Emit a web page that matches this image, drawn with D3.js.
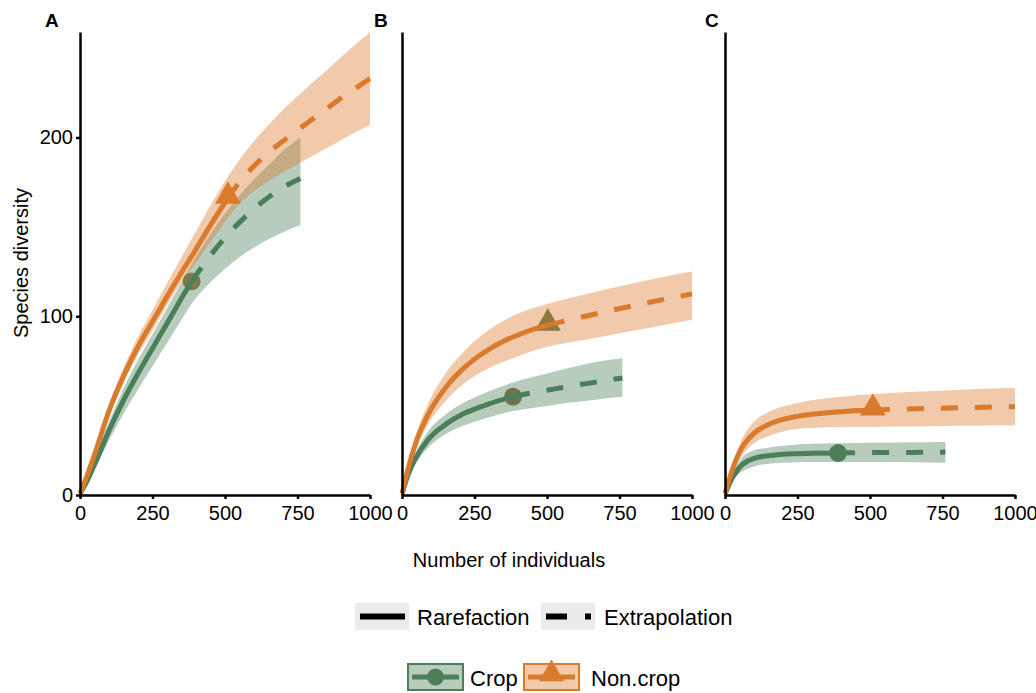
<!DOCTYPE html>
<html><head><meta charset="utf-8">
<script src="https://cdn.jsdelivr.net/npm/d3@7"></script>
<style>body{margin:0;background:#fff} text{font-family:"Liberation Sans",Arial,sans-serif}</style>
</head><body>
<svg id="chart" width="1036" height="693"></svg>
<script>
// ---------- data ----------
const panelLabels = ["A", "B", "C"];
const xTicks = [0, 250, 500, 750, 1000];
const yTicks = [0, 100, 200];
const groups = ["Crop", "Non.crop"];
const methods = ["Rarefaction", "Extrapolation"];

// Panel A
const A_crop_obs = 385;
const A_crop_n  = [1, 25, 50, 100, 150, 200, 250, 300, 350, 385, 450, 500, 550, 600, 650, 700, 760];
const A_crop_y  = [1, 8, 17, 36, 53, 68, 82, 96, 110, 119.5, 134, 144, 152.5, 160, 166.5, 172, 177];
const A_crop_lo = [1, 6.5, 14, 30.5, 45.5, 59, 72, 85, 98, 107, 119, 126.5, 133, 138.5, 143, 147, 151];
const A_crop_hi = [1, 9.5, 20, 41, 59.5, 75.5, 90, 104.5, 119, 129, 146, 157.5, 167.5, 176.5, 184.5, 192.5, 200];

const A_non_obs = 510;
const A_non_n  = [1, 25, 50, 100, 150, 200, 250, 300, 350, 400, 450, 510, 550, 600, 650, 700, 750, 800, 850, 900, 950, 1000];
const A_non_y  = [1, 11, 22.5, 47, 66.5, 83, 97, 111, 124.5, 137.5, 151, 166, 175, 184, 191.5, 198, 204, 210, 216, 222, 227.5, 233];
const A_non_lo = [1, 10, 21, 44.5, 63, 78.5, 92, 106, 119, 130, 141.5, 155, 163, 170, 175.5, 180.5, 185, 189.5, 194, 198.5, 203, 207];
const A_non_hi = [1, 12.5, 25, 50.5, 71, 88.5, 103.5, 118.5, 133, 147.5, 162, 178, 187.5, 198, 207, 215.5, 223, 230.5, 237.5, 245, 252, 259];

// Panel B
const B_crop_obs = 383;
const B_crop_n  = [1, 20, 45, 90, 150, 200, 250, 300, 383, 450, 500, 550, 600, 650, 700, 760];
const B_crop_y  = [1, 11, 20, 31, 39.5, 44.5, 48, 51, 55, 57.2, 58.6, 60, 61.4, 62.7, 64, 65.5];
const B_crop_lo = [1, 9.5, 17, 26.5, 34, 38, 41, 43.5, 47, 48.7, 49.8, 51, 52, 53, 54, 55];
const B_crop_hi = [1, 12.5, 23, 35.5, 45, 50.5, 54.5, 58, 63, 66, 68, 70, 72, 73.8, 75.2, 76.5];

const B_non_obs = 503;
const B_non_n  = [1, 20, 45, 90, 150, 200, 250, 300, 350, 400, 450, 503, 600, 700, 800, 900, 1000];
const B_non_y  = [1, 14, 28, 45, 60, 69, 76, 81.5, 86, 89.5, 92.5, 95, 98.8, 102.5, 106, 109.3, 112.5];
const B_non_lo = [1, 12, 24.5, 39.5, 52.5, 60.5, 66.5, 71, 74.5, 77.5, 80.5, 83, 86, 89, 92, 95, 98];
const B_non_hi = [1, 16, 32, 51, 68, 78, 86, 92.5, 97.5, 101.5, 104.5, 107, 111, 115, 118.5, 122, 125];

// Panel C
const C_crop_obs = 390;
const C_crop_n  = [1, 25, 50, 100, 150, 200, 250, 300, 390, 500, 600, 700, 760];
const C_crop_y  = [1, 9.5, 15.5, 20.5, 22, 22.8, 23.1, 23.3, 23.5, 23.7, 23.8, 23.9, 24];
const C_crop_lo = [1, 8, 12, 16, 17.5, 18, 18.3, 18.4, 18.5, 18.5, 18.4, 18.2, 18];
const C_crop_hi = [1, 11, 19, 25, 26.5, 27.5, 28.2, 28.6, 29, 29.2, 29.4, 29.5, 29.6];

const C_non_obs = 510;
const C_non_n  = [1, 25, 50, 100, 150, 200, 250, 300, 400, 510, 600, 700, 800, 900, 1000];
const C_non_y  = [1, 14, 24, 34.5, 39.5, 42.3, 44, 45.2, 46.6, 47.5, 48, 48.4, 48.8, 49.1, 49.4];
const C_non_lo = [1, 12, 20, 29, 33, 35.5, 37, 37.5, 38, 38, 38.3, 38.5, 38.7, 38.9, 39];
const C_non_hi = [1, 16, 28, 41, 46.5, 49.5, 51.5, 53, 55, 56.5, 57.3, 58, 58.8, 59.4, 60];

// ---------- build ----------
function series(n, y, lo, hi, obs) {
  return { obs, pts: n.map((v, i) => ({ n: v, y: y[i], lo: lo[i], hi: hi[i] })) };
}
const panelData = [
  { Crop: series(A_crop_n, A_crop_y, A_crop_lo, A_crop_hi, A_crop_obs),
    "Non.crop": series(A_non_n, A_non_y, A_non_lo, A_non_hi, A_non_obs) },
  { Crop: series(B_crop_n, B_crop_y, B_crop_lo, B_crop_hi, B_crop_obs),
    "Non.crop": series(B_non_n, B_non_y, B_non_lo, B_non_hi, B_non_obs) },
  { Crop: series(C_crop_n, C_crop_y, C_crop_lo, C_crop_hi, C_crop_obs),
    "Non.crop": series(C_non_n, C_non_y, C_non_lo, C_non_hi, C_non_obs) }
];

// ---------- styles ----------
const lineColor = { Crop: "#4b7f5a", "Non.crop": "#d97a2d" };
const markerColor = [
  { Crop: "#7d7b4b", "Non.crop": "#d97a2d" },
  { Crop: "#6d7449", "Non.crop": "#8b7a3c" },
  { Crop: "#4b7f5a", "Non.crop": "#d97a2d" }
];
const panelLeft = [80, 402, 725];
const panelW = 290;
const yTop = 32, yBottom = 495;

const svg = d3.select("#chart");
const y = d3.scaleLinear().domain([0, 259]).range([yBottom, yTop]);

panelData.forEach((pd, pi) => {
  const x = d3.scaleLinear().domain([0, 1000]).range([panelLeft[pi], panelLeft[pi] + panelW]);
  const g = svg.append("g");
  const area = d3.area().curve(d3.curveMonotoneX)
    .x(d => x(d.n)).y0(d => y(d.lo)).y1(d => y(d.hi));
  const line = d3.line().curve(d3.curveMonotoneX).x(d => x(d.n)).y(d => y(d.y));

  // ribbons
  groups.forEach(grp => {
    g.append("path").datum(pd[grp].pts).attr("d", area)
      .attr("fill", lineColor[grp]).attr("fill-opacity", 0.4);
  });
  // points (reference sample)
  groups.forEach(grp => {
    const s = pd[grp];
    const p = s.pts.find(d => d.n === s.obs);
    const sym = grp === "Crop" ? d3.symbolCircle : d3.symbolTriangle;
    const size = grp === "Crop" ? 250 : 290;
    g.append("path").attr("d", d3.symbol(sym, size)())
      .attr("transform", `translate(${x(p.n)},${y(p.y) + (grp === "Crop" ? 0 : -2)})`)
      .attr("fill", markerColor[pi][grp]);
  });
  // lines
  groups.forEach(grp => {
    const s = pd[grp];
    g.append("path").datum(s.pts.filter(d => d.n <= s.obs)).attr("d", line)
      .attr("fill", "none").attr("stroke", lineColor[grp]).attr("stroke-width", 5);
    g.append("path").datum(s.pts.filter(d => d.n >= s.obs)).attr("d", line)
      .attr("fill", "none").attr("stroke", lineColor[grp]).attr("stroke-width", 5)
      .attr("stroke-dasharray", "17 17");
  });

  // axes
  const xa = svg.append("g").attr("transform", `translate(0,${yBottom})`)
    .call(d3.axisBottom(x).tickValues(xTicks).tickFormat(d3.format("d")).tickSize(4).tickPadding(7).tickSizeOuter(0));
  const ya = svg.append("g").attr("transform", `translate(${panelLeft[pi]},0)`)
    .call(d3.axisLeft(y).tickValues(pi === 0 ? yTicks : []).tickSize(4).tickPadding(3).tickSizeOuter(0));
  [xa, ya].forEach(a => {
    a.select(".domain").attr("stroke", "#000").attr("stroke-width", 2.5);
    a.selectAll(".tick line").attr("stroke", "#000").attr("stroke-width", 2.5);
    a.selectAll(".tick text").attr("fill", "#000").style("font-size", "20px")
      .style("font-family", '"Liberation Sans",Arial,sans-serif');
  });

  svg.append("text").attr("x", [45, 374, 705][pi]).attr("y", 27)
    .attr("font-weight", "bold").attr("font-size", 19).text(panelLabels[pi]);
});

// axis titles
svg.append("text").attr("x", 509).attr("y", 567).attr("text-anchor", "middle")
  .attr("font-size", 20).text("Number of individuals");
svg.append("text").attr("transform", "translate(28,263) rotate(-90)").attr("text-anchor", "middle")
  .attr("font-size", 20).text("Species diversity");

// legend 1: method (linetype)
const leg1 = [
  { label: methods[0], kx: 355, tx: 417, dash: null },
  { label: methods[1], kx: 541, tx: 604, dash: "21 18" }
];
leg1.forEach(d => {
  svg.append("rect").attr("x", d.kx).attr("y", 603).attr("width", 54).attr("height", 27).attr("fill", "#ebebeb");
  svg.append("line").attr("x1", d.kx + 5).attr("x2", d.kx + 50).attr("y1", 616.5).attr("y2", 616.5)
    .attr("stroke", "#000").attr("stroke-width", 6).attr("stroke-dasharray", d.dash);
  svg.append("text").attr("x", d.tx).attr("y", 625).attr("font-size", 22).text(d.label);
});

// legend 2: groups
const leg2 = [
  { grp: "Crop", kx: 408, tx: 470 },
  { grp: "Non.crop", kx: 524, tx: 591 }
];
leg2.forEach(d => {
  const c = lineColor[d.grp];
  svg.append("rect").attr("x", d.kx).attr("y", 664).attr("width", 55).attr("height", 26)
    .attr("fill", c).attr("fill-opacity", 0.4).attr("stroke", c).attr("stroke-width", 2);
  svg.append("line").attr("x1", d.kx + 4).attr("x2", d.kx + 51).attr("y1", 677).attr("y2", 677)
    .attr("stroke", c).attr("stroke-width", 5);
  const sym = d.grp === "Crop" ? d3.symbolCircle : d3.symbolTriangle;
  svg.append("path").attr("d", d3.symbol(sym, d.grp === "Crop" ? 230 : 270)())
    .attr("transform", `translate(${d.kx + 27.5},${d.grp === "Crop" ? 677 : 674})`).attr("fill", c);
  svg.append("text").attr("x", d.tx).attr("y", 686).attr("font-size", 22).text(d.grp);
});
</script>
</body></html>
